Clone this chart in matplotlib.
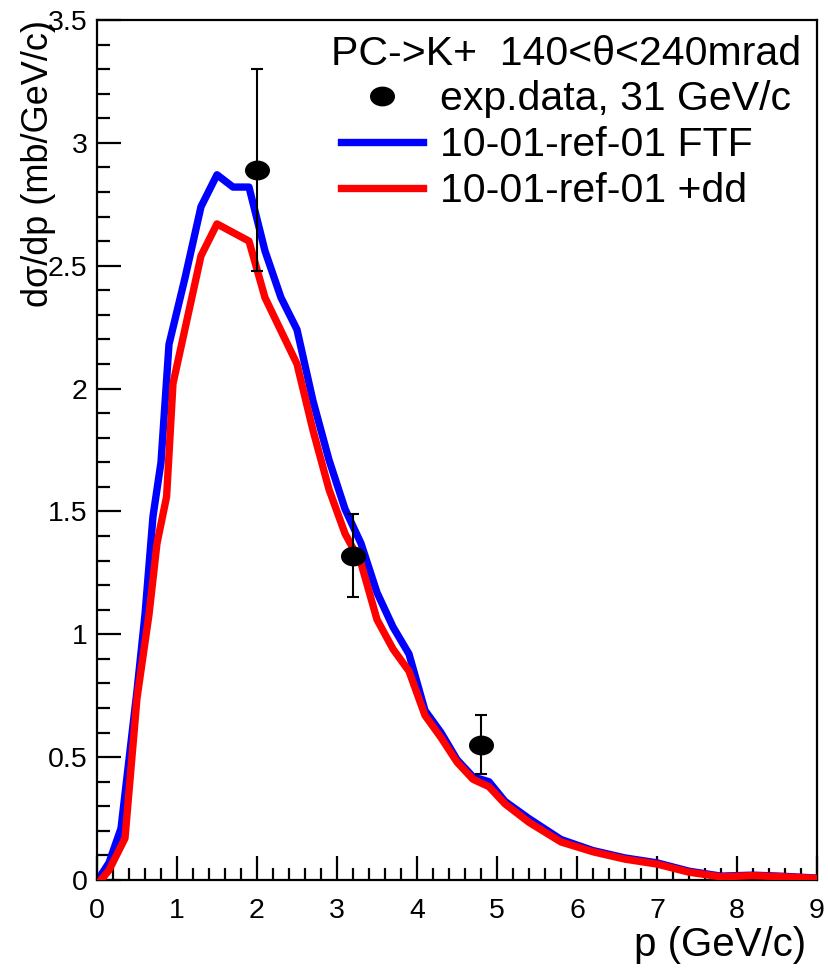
#!/usr/bin/env python3
"""K+ momentum spectrum, PC->K+ at 140<theta<240 mrad, data vs two FTF variants."""

import matplotlib
matplotlib.use("Agg")
import matplotlib.pyplot as plt
from matplotlib.path import Path
from matplotlib.transforms import Affine2D
from matplotlib.ticker import MultipleLocator, FormatStrFormatter

plt.rcParams["font.family"] = ["Liberation Sans", "DejaVu Sans"]

# experimental points, 31 GeV/c
p_data = [2.0, 3.2, 4.8]
xs_data = [2.89, 1.32, 0.55]
err_data = [0.41, 0.17, 0.12]

# 10-01-ref-01 FTF
p_ftf = [0.05, 0.15, 0.3, 0.4, 0.5, 0.6, 0.7, 0.8, 0.9, 1.1, 1.3, 1.5, 1.7, 1.9,
         2.1, 2.3, 2.5, 2.7, 2.9, 3.1, 3.3, 3.5, 3.7, 3.9, 4.1, 4.3, 4.5, 4.7,
         4.9, 5.1, 5.4, 5.8, 6.2, 6.6, 7.0, 7.4, 7.8, 8.2, 8.6, 9.0]
xs_ftf = [0.02, 0.07, 0.21, 0.49, 0.77, 1.08, 1.48, 1.70, 2.18, 2.45, 2.74, 2.87,
          2.82, 2.82, 2.56, 2.37, 2.24, 1.95, 1.71, 1.51, 1.37, 1.17, 1.03, 0.92,
          0.69, 0.60, 0.49, 0.42, 0.40, 0.32, 0.25, 0.165, 0.12, 0.09, 0.07,
          0.036, 0.016, 0.02, 0.015, 0.008]

# 10-01-ref-01 +dd
p_dd = [0.05, 0.15, 0.35, 0.5, 0.65, 0.75, 0.87, 0.95, 1.3, 1.5, 1.9, 2.1, 2.5,
        2.7, 2.9, 3.1, 3.3, 3.5, 3.7, 3.9, 4.1, 4.3, 4.5, 4.7, 4.9, 5.1, 5.4,
        5.8, 6.2, 6.6, 7.0, 7.4, 7.8, 8.2, 8.6, 9.0]
xs_dd = [0.0, 0.04, 0.17, 0.74, 1.08, 1.37, 1.56, 2.02, 2.54, 2.67, 2.60, 2.37,
         2.10, 1.83, 1.59, 1.41, 1.29, 1.06, 0.94, 0.85, 0.67, 0.58, 0.48, 0.41,
         0.38, 0.31, 0.235, 0.155, 0.115, 0.085, 0.065, 0.032, 0.013, 0.018,
         0.013, 0.007]

fig = plt.figure(figsize=(8.29, 9.69), dpi=100)
ax = fig.add_axes([0.117, 0.0918, 0.8685, 0.8876])

ax.plot(p_ftf, xs_ftf, color="#0000ff", lw=5.3, label="10-01-ref-01 FTF", zorder=2)
ax.plot(p_dd, xs_dd, color="#ff0000", lw=5.3, label="10-01-ref-01 +dd", zorder=3)

ellipse = Path.unit_circle().transformed(Affine2D().scale(1.0, 0.78))
ax.errorbar(p_data, xs_data, yerr=err_data, fmt="none", ecolor="black",
            elinewidth=1.5, capsize=4, capthick=1.5, zorder=4)
dots, = ax.plot(p_data, xs_data, ls="none", marker=ellipse, ms=17,
                color="black", label="exp.data, 31 GeV/c", zorder=5)

ax.set_xlim(0, 9)
ax.set_ylim(0, 3.5)
ax.xaxis.set_major_locator(MultipleLocator(1))
ax.xaxis.set_minor_locator(MultipleLocator(0.2))
ax.yaxis.set_major_locator(MultipleLocator(0.5))
ax.yaxis.set_minor_locator(MultipleLocator(0.1))
ax.yaxis.set_major_formatter(FormatStrFormatter("%g"))

ax.tick_params(which="both", direction="in", top=False, right=False, width=1.6)
ax.tick_params(which="major", length=17, labelsize=20.5)
ax.tick_params(axis="x", which="major", pad=13)
ax.tick_params(axis="y", which="major", pad=7)
ax.tick_params(which="minor", length=9)
for spine in ax.spines.values():
    spine.set_linewidth(1.6)

ax.set_xlabel("p (GeV/c)", fontsize=29, loc="right")
ax.xaxis.set_label_coords(0.985, -0.053)
ax.set_ylabel("d\u03c3/dp (mb/GeV/c)", fontsize=26, loc="top")
ax.yaxis.set_label_coords(-0.057, 1.0)

handles, labels = ax.get_legend_handles_labels()
order = [labels.index("exp.data, 31 GeV/c"), labels.index("10-01-ref-01 FTF"),
         labels.index("10-01-ref-01 +dd")]
leg = ax.legend([handles[i] for i in order], [labels[i] for i in order],
                title="PC->K+  140<\u03b8<240mrad", loc="upper right",
                bbox_to_anchor=(0.978, 0.983), frameon=False, fontsize=29.5,
                title_fontsize=29.5, handlelength=2.0, handletextpad=0.4,
                labelspacing=0.19, borderpad=0, borderaxespad=0, numpoints=1)

fig.savefig("out.png", dpi=100)
